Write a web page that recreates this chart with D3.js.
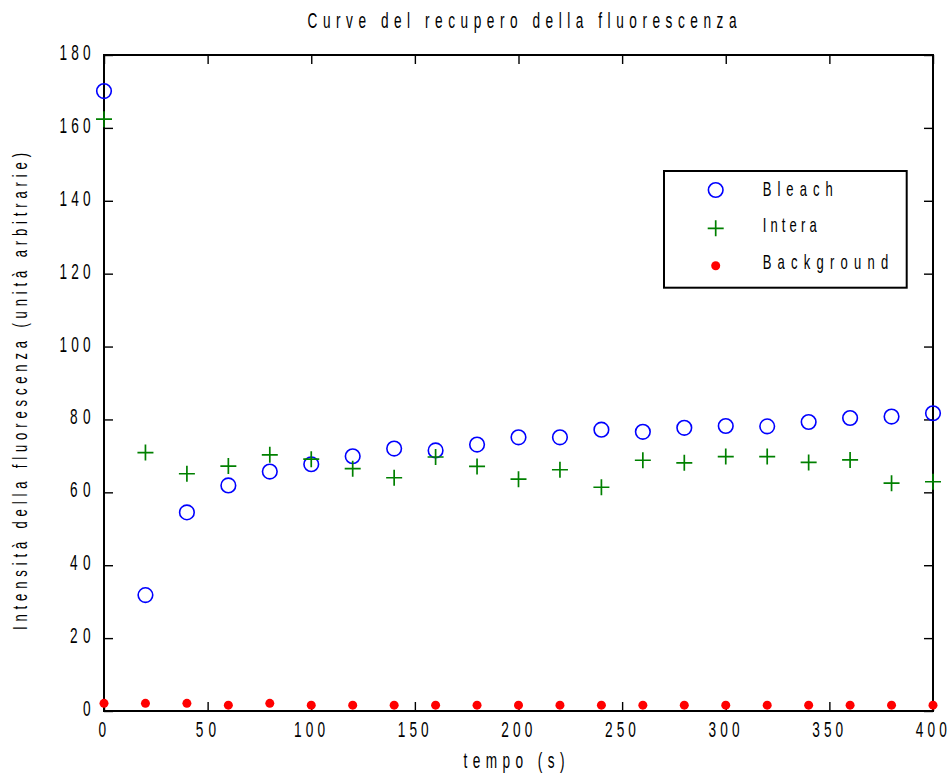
<!DOCTYPE html>
<html>
<head>
<meta charset="utf-8">
<script src="https://cdn.jsdelivr.net/npm/d3@7"></script>
<style>
  html, body { margin: 0; padding: 0; background: #fff; }
  svg { display: block; }
  text { font-family: "Liberation Sans", Arial, sans-serif; fill: #000; }
</style>
</head>
<body>
<svg id="chart" width="950" height="778"></svg>
<script>
// Sampling times (s)
const times = [0, 20, 40, 60, 80, 100, 120, 140, 160, 180, 200, 220, 240, 260, 280, 300, 320, 340, 360, 380, 400];
// Fluorescence intensity of the bleached region
const bleach = [170.1, 31.8, 54.5, 61.9, 65.7, 67.7, 69.9, 72.0, 71.5, 73.1, 75.1, 75.1, 77.2, 76.6, 77.7, 78.2, 78.1, 79.3, 80.4, 80.8, 81.7];
// Fluorescence intensity of the whole cell
const intera = [162.4, 70.9, 65.1, 67.2, 70.3, 69.1, 66.5, 64.0, 69.7, 67.1, 63.6, 66.2, 61.4, 68.8, 68.1, 69.8, 69.8, 68.2, 68.9, 62.5, 62.9];
// Background intensity
const background = [2.1, 2.1, 2.1, 1.6, 2.1, 1.6, 1.6, 1.6, 1.6, 1.6, 1.6, 1.6, 1.6, 1.6, 1.6, 1.6, 1.6, 1.6, 1.6, 1.6, 1.6];

const xTicks = [0, 50, 100, 150, 200, 250, 300, 350, 400];
const yTicks = [0, 20, 40, 60, 80, 100, 120, 140, 160, 180];

const titleText = "Curve del recupero della fluorescenza";
const xLabelText = "tempo (s)";
const yLabelText = "Intensità della fluorescenza (unità arbitrarie)";
const legendLabels = ["Bleach", "Intera", "Background"];

const svg = d3.select("#chart");
const plotLeft = 104, plotRight = 933, plotTop = 55, plotBottom = 711;
const x = d3.scaleLinear().domain([0, 400]).range([plotLeft, plotRight]);
const y = d3.scaleLinear().domain([0, 180]).range([plotBottom, plotTop]);

// Horizontally condensed, letter-spaced text
const SX = 0.62;
function label(parent, o) {
  const g = parent.append("g")
    .attr("transform", `translate(${o.x},${o.y}) rotate(${o.rotate || 0}) scale(${SX},1)`);
  const t = g.append("text")
    .attr("text-anchor", o.anchor || "start")
    .attr("font-size", o.size || 22)
    .text(o.text);
  if (o.len) t.attr("textLength", o.len / SX).attr("lengthAdjust", "spacing");
  return t;
}

// Spread width of a tick label, by number of digits
function tickWidth(n) {
  return n >= 3 ? 31 : n === 2 ? 20.5 : null;
}
function spreadTick(sel) {
  sel.each(function () {
    const t = d3.select(this);
    const w = tickWidth(t.text().length);
    if (w) t.attr("textLength", w / SX).attr("lengthAdjust", "spacing");
  });
}

// Axes with inward ticks on all four sides
const tickLen = 9;
function styleAxis(g) {
  g.select(".domain").remove();
  g.selectAll(".tick line").attr("stroke", "#000").attr("stroke-width", 1.4);
}

const gx = svg.append("g").attr("transform", `translate(0,${plotBottom})`)
  .call(d3.axisBottom(x).tickValues(xTicks).tickSizeInner(-tickLen).tickSizeOuter(0));
styleAxis(gx);
gx.selectAll(".tick text")
  .attr("x", null).attr("y", null).attr("dy", null)
  .attr("transform", `translate(-2.2,26) scale(${SX},1)`)
  .attr("text-anchor", "middle")
  .attr("font-size", 22)
  .attr("fill", "#000")
  .call(spreadTick);

const gxt = svg.append("g").attr("transform", `translate(0,${plotTop})`)
  .call(d3.axisTop(x).tickValues(xTicks).tickSizeInner(-tickLen).tickSizeOuter(0).tickFormat(""));
styleAxis(gxt);

const gy = svg.append("g").attr("transform", `translate(${plotLeft},0)`)
  .call(d3.axisLeft(y).tickValues(yTicks).tickSizeInner(-tickLen).tickSizeOuter(0));
styleAxis(gy);
gy.selectAll(".tick text")
  .attr("x", null).attr("y", null).attr("dy", null)
  .attr("transform", `translate(-13.5,4.5) scale(${SX},1)`)
  .attr("text-anchor", "end")
  .attr("font-size", 22)
  .attr("fill", "#000")
  .call(spreadTick);

const gyr = svg.append("g").attr("transform", `translate(${plotRight},0)`)
  .call(d3.axisRight(y).tickValues(yTicks).tickSizeInner(-tickLen).tickSizeOuter(0).tickFormat(""));
styleAxis(gyr);

// Plot frame
svg.append("rect")
  .attr("x", plotLeft).attr("y", plotTop)
  .attr("width", plotRight - plotLeft).attr("height", plotBottom - plotTop)
  .attr("fill", "none").attr("stroke", "#000").attr("stroke-width", 2);

// Markers
const crossPath = "M-8,0H8M0,-8V8";
function drawCircles(g, xs, ys) {
  g.selectAll(null).data(xs.map((t, i) => [t, ys[i]])).join("circle")
    .attr("cx", d => x(d[0])).attr("cy", d => y(d[1])).attr("r", 7.3)
    .attr("fill", "none").attr("stroke", "#0000ff").attr("stroke-width", 1.6);
}
function drawCrosses(g, xs, ys) {
  g.selectAll(null).data(xs.map((t, i) => [t, ys[i]])).join("path")
    .attr("transform", d => `translate(${x(d[0])},${y(d[1])})`)
    .attr("d", crossPath)
    .attr("fill", "none").attr("stroke", "#008000").attr("stroke-width", 1.7);
}
function drawDots(g, xs, ys) {
  g.selectAll(null).data(xs.map((t, i) => [t, ys[i]])).join("circle")
    .attr("cx", d => x(d[0])).attr("cy", d => y(d[1])).attr("r", 4.5)
    .attr("fill", "#ff0000");
}
const marks = svg.append("g");
drawCircles(marks.append("g"), times, bleach);
drawCrosses(marks.append("g"), times, intera);
drawDots(marks.append("g"), times, background);

// Titles
label(svg, { x: 522, y: 28, text: titleText, anchor: "middle", len: 429, size: 22 });
label(svg, { x: 514, y: 768, text: xLabelText, anchor: "middle", len: 101, size: 22 });
label(svg, { x: 27, y: 391.5, text: yLabelText, anchor: "middle", rotate: -90, len: 477, size: 21 });

// Legend
const lg = svg.append("g");
lg.append("rect")
  .attr("x", 664).attr("y", 171).attr("width", 242.7).attr("height", 116.7)
  .attr("fill", "#fff").attr("stroke", "#000").attr("stroke-width", 2);
const legendRows = [
  { mark: "circle", cy: 190, base: 196, w: 70 },
  { mark: "cross", cy: 228.3, base: 232.3, w: 54 },
  { mark: "dot", cy: 265.7, base: 269, w: 125.6 }
];
legendRows.forEach((r, i) => {
  if (r.mark === "circle") {
    lg.append("circle").attr("cx", 715.7).attr("cy", r.cy).attr("r", 7.3)
      .attr("fill", "none").attr("stroke", "#0000ff").attr("stroke-width", 1.6);
  } else if (r.mark === "cross") {
    lg.append("path").attr("transform", `translate(715.7,${r.cy})`).attr("d", crossPath)
      .attr("fill", "none").attr("stroke", "#008000").attr("stroke-width", 1.7);
  } else {
    lg.append("circle").attr("cx", 715.7).attr("cy", r.cy).attr("r", 4.5).attr("fill", "#ff0000");
  }
  label(lg, { x: 762.7, y: r.base, text: legendLabels[i], anchor: "start", len: r.w, size: 21 });
});
</script>
</body>
</html>
